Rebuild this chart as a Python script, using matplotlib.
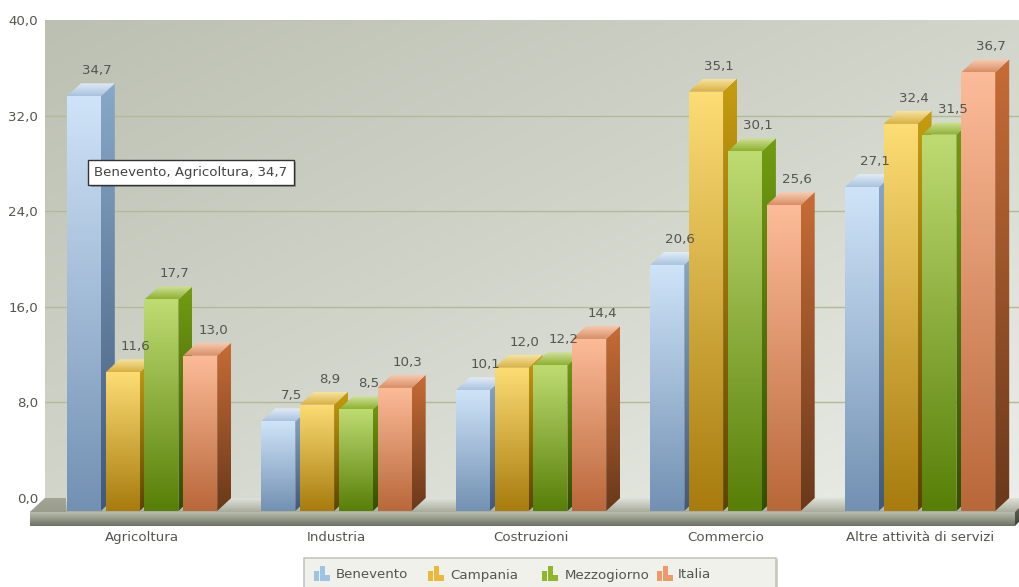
import matplotlib
matplotlib.use('Agg')
import matplotlib.pyplot as plt
import matplotlib.patheffects as pe
from matplotlib.colors import LinearSegmentedColormap
from matplotlib.patches import Polygon, Rectangle
import numpy as np

categories = ['Agricoltura', 'Industria', 'Costruzioni', 'Commercio', 'Altre attività di servizi']
series = ['Benevento', 'Campania', 'Mezzogiorno', 'Italia']
benevento = [34.7, 7.5, 10.1, 20.6, 27.1]
campania = [11.6, 8.9, 12.0, 35.1, 32.4]
mezzogiorno = [17.7, 8.5, 12.2, 30.1, 31.5]
italia = [13.0, 10.3, 14.4, 25.6, 36.7]
yticks = [0, 8, 16, 24, 32, 40]

# front colours top/bottom, side colours top/bottom, top face back/front
palette = [
    ('#cfe3f8', '#7391b3', '#88a8c8', '#41597a', '#e2edf7', '#a9c3de'),
    ('#fcdc74', '#a87c0e', '#c69c10', '#5e4300', '#f6e3a0', '#d8b040'),
    ('#bedb72', '#587f08', '#729c12', '#324f00', '#cfe29a', '#8fb030'),
    ('#fcbb98', '#b9683a', '#c66c36', '#6a391b', '#f8cdb4', '#d98e64'),
]

W, H = 1019, 587
GROUP_PX = 194.5
UNIT_PX = 11.95
ZERO_X = 142
ZERO_Y = 498
TEXT = '#555550'
FS = 9.6


def xd(px):
    return (px - ZERO_X) / GROUP_PX


def yd(py):
    return (ZERO_Y - py) / UNIT_PX


def fill(ax, corners, c0, c1, vertical=True, z=2):
    # gradient clipped to a polygon, c0 is the top (or left) colour
    corners = np.array(corners)
    cmap = LinearSegmentedColormap.from_list('g', [c0, c1])
    grad = np.linspace(0, 1, 64).reshape(-1, 1) if vertical else np.linspace(0, 1, 64).reshape(1, -1)
    ext = [corners[:, 0].min(), corners[:, 0].max(), corners[:, 1].min(), corners[:, 1].max()]
    im = ax.imshow(grad, extent=ext, origin='upper', cmap=cmap, aspect='auto',
                   interpolation='bilinear', zorder=z)
    poly = Polygon(corners, transform=ax.transData, fc='none', ec='none')
    im.set_clip_box(fig.bbox)
    im.set_clip_path(poly)


def fig_rect(x, y, w, h, **kw):
    r = Rectangle((x / W, 1 - (y + h) / H), w / W, h / H, transform=fig.transFigure, **kw)
    fig.add_artist(r)
    return r


plt.rcParams['font.family'] = 'DejaVu Sans'
fig = plt.figure(figsize=(W / 100, H / 100), dpi=100, facecolor='white')
ax = fig.add_axes([45 / W, 1 - ZERO_Y / H, (W - 45) / W, (ZERO_Y - 20) / H])

# back wall
xx, yy = np.meshgrid(np.linspace(0, 1, 120), np.linspace(0, 1, 80))
wall = LinearSegmentedColormap.from_list('wall', ['#bcc0b2', '#d2d5ca', '#ebeee8'])
ax.imshow(0.5 * xx + 0.5 * yy, extent=[xd(45), xd(W), 0, 40], origin='upper', cmap=wall,
          aspect='auto', interpolation='bilinear', zorder=0)
ax.set_xlim(xd(45), xd(W))
ax.set_ylim(0, 40)
ax.set_yticks(yticks)
ax.set_yticklabels([('%.1f' % v).replace('.', ',') for v in yticks])
ax.set_xticks(range(len(categories)))
ax.set_xticklabels(categories)
ax.tick_params(axis='y', length=0, pad=5, labelsize=FS, labelcolor=TEXT)
ax.tick_params(axis='x', length=0, pad=24, labelsize=FS, labelcolor=TEXT)
ax.grid(axis='y', color='#b2bb98', lw=1)
ax.set_axisbelow(True)
ygrid = ax.get_ygridlines()
ygrid[0].set_visible(False)
ygrid[-1].set_visible(False)
for s in ax.spines.values():
    s.set_visible(False)

# floor and front slab
fill(ax, [(xd(45), yd(498)), (xd(1040), yd(498)), (xd(1015), yd(512)), (xd(30), yd(512))],
     '#dfe2da', '#a9ac9b', z=2)
fill(ax, [(xd(45), yd(498)), (xd(66), yd(498)), (xd(66), yd(512)), (xd(30), yd(512))],
     '#a3a695', '#9a9d8c', z=2)
fill(ax, [(xd(30), yd(512)), (xd(1015), yd(512)), (xd(1015), yd(526)), (xd(30), yd(526))],
     '#bfc2b2', '#6c7161', z=3)
fill(ax, [(xd(1015), yd(512)), (xd(1019), yd(508)), (xd(1019), yd(522)), (xd(1015), yd(526))],
     '#5c6055', '#3f4239', z=3)

# 3d bars
bar_step = 38.8 / GROUP_PX
bar_w = 34 / GROUP_PX
dx = 14 / GROUP_PX
dy = 13 / UNIT_PX
values = [benevento, campania, mezzogiorno, italia]

z = 5
for g in range(len(categories)):
    for j, vals in enumerate(values):
        v = vals[g]
        c = palette[j]
        left = g + (j - 1.5) * bar_step - bar_w / 2
        right = left + bar_w
        ftop = v - dy
        fill(ax, [(right, ftop), (right + dx, v), (right + dx, 0), (right, -dy)], c[2], c[3], z=z)
        fill(ax, [(left, ftop), (right, ftop), (right + dx, v), (left + dx, v)], c[4], c[5], z=z)
        fill(ax, [(left, ftop), (right, ftop), (right, -dy), (left, -dy)], c[0], c[1], z=z)
        z += 0.01
        ax.text(left + 30 / GROUP_PX, v + 1.05, ('%.1f' % v).replace('.', ','), ha='center',
                va='center', fontsize=FS, color=TEXT, zorder=20)

ax.set_xlim(xd(45), xd(W))
ax.set_ylim(0, 40)

# tooltip
tip = fig.text(191 / W, 1 - 172.5 / H, 'Benevento, Agricoltura, 34,7', ha='center', va='center',
               fontsize=FS, color='#444444', zorder=30,
               bbox=dict(boxstyle='square,pad=0.45', fc='white', ec='#333333', lw=1))
tip.get_bbox_patch().set_path_effects([pe.SimplePatchShadow(offset=(1.5, -1.5), alpha=0.4), pe.Normal()])

# legend, it runs off the bottom of the picture
box = fig_rect(304, 558, 472, 40, fc='#eff1ea', ec='#c4c7bb', lw=1.2, zorder=30)
box.set_path_effects([pe.SimplePatchShadow(offset=(1.5, -1), alpha=0.25), pe.Normal()])
legend_icon_x = [314, 428, 542, 657]
legend_text_x = [336, 450, 565, 678]
legend_colors = ['#9fc3e4', '#eab83a', '#8fb52c', '#ee9a68']
for name, ix, tx, col in zip(series, legend_icon_x, legend_text_x, legend_colors):
    for off, bw, bh in [(0, 5, 10), (5.5, 5, 15), (11, 5, 6)]:
        fig_rect(ix + off, 581 - bh, bw, bh, fc=col, ec='none', zorder=31)
    fig.text(tx / W, 1 - 575 / H, name, ha='left', va='center', fontsize=FS, color=TEXT, zorder=31)

fig.savefig('out.png', dpi=100)
